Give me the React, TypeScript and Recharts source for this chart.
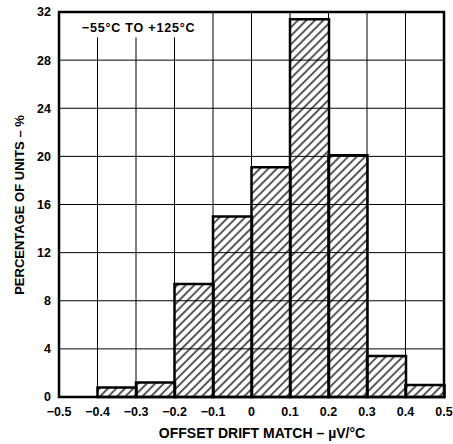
import { Bar, CartesianGrid, ComposedChart, ReferenceArea, ReferenceLine, XAxis, YAxis } from 'recharts';

const binStarts = [-0.5, -0.4, -0.3, -0.2, -0.1, 0, 0.1, 0.2, 0.3, 0.4];
const percentUnits = [0, 0.8, 1.2, 9.4, 15.0, 19.1, 31.4, 20.1, 3.4, 1.0];
const xTicks = [-0.5, -0.4, -0.3, -0.2, -0.1, 0, 0.1, 0.2, 0.3, 0.4, 0.5];
const yTicks = [0, 4, 8, 12, 16, 20, 24, 28, 32];
const rangeNote = '−55°C TO +125°C';
const xTitle = 'OFFSET DRIFT MATCH – µV/°C';
const yTitle = 'PERCENTAGE OF UNITS – %';

// the note sits over the top-left gridlines, which stop just below it
const noteRight = -0.14;
const noteBottom = 29.9;

const chartData = binStarts.map((start, i) => ({
  bin: String(start),
  mid: start + 0.05,
  percent: percentUnits[i],
}));

const font = '"Liberation Sans", Arial, Helvetica, sans-serif';
const textStyle = { fontFamily: font, fontWeight: 700, fontSize: 12.5, fill: '#000' };

const fmtX = (v: number) => (v === 0 ? '0' : v < 0 ? `−${Math.abs(v)}` : String(v));

export default function App() {
  return (
    <div style={{ position: 'absolute', left: 0, top: 0, background: '#fff' }}>
      <ComposedChart
        width={453}
        height={444}
        data={chartData}
        margin={{ top: 12, right: 9, bottom: 0, left: 0 }}
        barCategoryGap={0}
        barGap={0}
      >
        <defs>
          <pattern id="hatch" patternUnits="userSpaceOnUse" width={6} height={6} patternTransform="rotate(45)">
            <line x1={3} y1={0} x2={3} y2={6} stroke="#000" strokeWidth={1.3} />
          </pattern>
        </defs>
        <CartesianGrid vertical={false} stroke="#000" strokeWidth={1} strokeOpacity={1} />
        <XAxis
          xAxisId="edges"
          dataKey="mid"
          type="number"
          domain={[-0.5, 0.5]}
          allowDataOverflow
          ticks={xTicks}
          interval={0}
          tickFormatter={fmtX}
          tickLine={false}
          axisLine={false}
          tickSize={0}
          tickMargin={10}
          height={47}
          tick={textStyle}
          label={{
            content: () => (
              <text x={262} y={438} textAnchor="middle" style={{ ...textStyle, fontSize: 14 }}>
                {xTitle}
              </text>
            ),
          }}
        />
        <XAxis xAxisId="bins" dataKey="bin" type="category" hide height={0} />
        <YAxis
          domain={[0, 32]}
          ticks={yTicks}
          interval={0}
          tickLine={false}
          axisLine={false}
          tickSize={0}
          tickMargin={8}
          width={59}
          tick={textStyle}
          label={{
            content: () => (
              <text
                x={0}
                y={0}
                transform="translate(24 205) rotate(-90)"
                textAnchor="middle"
                style={{ ...textStyle, fontSize: 13 }}
              >
                {yTitle}
              </text>
            ),
          }}
        />
        <ReferenceArea
          xAxisId="edges"
          x1={-0.49}
          x2={noteRight}
          y1={noteBottom}
          y2={31.95}
          fill="#fff"
          fillOpacity={1}
          stroke="none"
          label={{
            content: (props: any) => (
              <text x={props.viewBox.x + 19} y={32} style={{ ...textStyle, letterSpacing: 0.8 }}>
                {rangeNote}
              </text>
            ),
          }}
        />
        {xTicks.slice(1, -1).map((t) => (
          <ReferenceLine
            key={t}
            xAxisId="edges"
            segment={[
              { x: t, y: 0 },
              { x: t, y: t < noteRight ? noteBottom : 32 },
            ]}
            stroke="#000"
            strokeWidth={1}
            strokeOpacity={1}
          />
        ))}
        <Bar
          xAxisId="bins"
          dataKey="percent"
          fill="url(#hatch)"
          stroke="#000"
          strokeWidth={2.5}
          isAnimationActive={false}
        />
        <ReferenceArea
          xAxisId="edges"
          x1={-0.5}
          x2={0.5}
          y1={0}
          y2={32}
          fill="none"
          stroke="#000"
          strokeWidth={2.5}
        />
      </ComposedChart>
    </div>
  );
}
